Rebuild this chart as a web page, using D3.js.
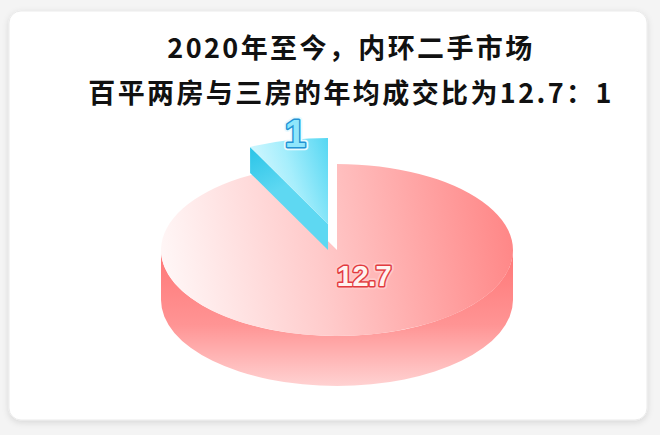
<!DOCTYPE html>
<html>
<head>
<meta charset="utf-8">
<script src="https://cdn.jsdelivr.net/npm/d3@7"></script>
<style>
  html, body { margin: 0; padding: 0; background: #f4f4f4; }
  svg { display: block; }
</style>
</head>
<body>
<svg id="canvas" width="660" height="435"></svg>
<script>
// data
let categories = ['百平两房', '百平三房'];
let values = [12.7, 1];
let valueLabels = ['12.7', '1'];
let titleLines = ['2020年至今，内环二手市场', '百平两房与三房的年均成交比为12.7：1'];

let width = 660;
let height = 435;

// pie geometry
let cx = 337, cy = 250, rx = 176, ry = 86, depth = 50;
// the small slice is lifted out and thinner
let liftX = -9, liftY = -26, liftDepth = 26;

let svg = d3.select('#canvas');
let defs = svg.append('defs');

let shadow = defs.append('filter').attr('id', 'shadow')
    .attr('x', '-5%').attr('y', '-5%').attr('width', '110%').attr('height', '115%');
shadow.append('feDropShadow')
    .attr('dx', 0).attr('dy', 2).attr('stdDeviation', 3)
    .attr('flood-color', '#000').attr('flood-opacity', 0.12);

// card
svg.append('rect')
    .attr('x', 9).attr('y', 11)
    .attr('width', 638).attr('height', 409)
    .attr('rx', 12)
    .attr('fill', '#fff')
    .attr('stroke', '#ebebeb')
    .attr('filter', 'url(#shadow)');

// title
svg.selectAll('.title')
    .data(titleLines)
    .enter()
    .append('text')
    .attr('class', 'title')
    .attr('x', 351)
    .attr('y', (d, i) => 58 + i * 45)
    .attr('text-anchor', 'middle')
    .attr('font-family', '"Noto Sans CJK SC", "Noto Sans", sans-serif')
    .attr('font-weight', 700)
    .attr('font-size', 27)
    .attr('letter-spacing', 2.4)
    .attr('fill', '#111')
    .text(d => d);

// gradients
let addLinear = (id, x1, y1, x2, y2, stops) => {
    let g = defs.append('linearGradient').attr('id', id)
        .attr('gradientUnits', 'userSpaceOnUse')
        .attr('x1', x1).attr('y1', y1).attr('x2', x2).attr('y2', y2);
    stops.forEach(s => {
        g.append('stop').attr('offset', s[0]).attr('stop-color', s[1]);
    });
};

addLinear('redTop', cx - rx, cy + ry * 0.4, cx + rx, cy - ry * 0.3,
    [[0, '#fff8f8'], [0.45, '#ffcaca'], [1, '#ff8686']]);
addLinear('redSide', 0, cy, 0, cy + ry + depth,
    [[0, '#ff7676'], [0.55, '#ff9494'], [1, '#ffd2d2']]);
addLinear('blueTop', cx - 90, cy - 60, cx, cy - 90,
    [[0, '#e4fbff'], [0.5, '#a6eefc'], [1, '#52d6f2']]);
addLinear('blueSide', cx - 80, cy - 100, cx - 60, cy - 60,
    [[0, '#2fc6e8'], [1, '#5ed8f2']]);

let arcs = d3.pie().sort(null).startAngle(0).endAngle(2 * Math.PI)(values);

let pt = (a, r, ox, oy, z) => {
    return [cx + ox + rx * r * Math.sin(a), cy + oy - ry * r * Math.cos(a) + z];
};

let topPath = (d, ox, oy) => {
    let c = pt(0, 0, ox, oy, 0);
    let p0 = pt(d.startAngle, 1, ox, oy, 0);
    let p1 = pt(d.endAngle, 1, ox, oy, 0);
    let large = (d.endAngle - d.startAngle) > Math.PI ? 1 : 0;
    return 'M' + c + 'L' + p0 + 'A' + rx + ',' + ry + ' 0 ' + large + ' 1 ' + p1 + 'Z';
};

// front part of the outer wall
let outerPath = (d, ox, oy, dz) => {
    let s = Math.max(d.startAngle, Math.PI / 2);
    let e = Math.min(d.endAngle, 3 * Math.PI / 2);
    if (e <= s) return null;
    let a = pt(s, 1, ox, oy, 0), b = pt(e, 1, ox, oy, 0);
    let bb = pt(e, 1, ox, oy, dz), aa = pt(s, 1, ox, oy, dz);
    return 'M' + a + 'A' + rx + ',' + ry + ' 0 0 1 ' + b +
        'L' + bb + 'A' + rx + ',' + ry + ' 0 0 0 ' + aa + 'Z';
};

// radial wall at the start of a slice
let wallPath = (angle, ox, oy, dz) => {
    let c = pt(0, 0, ox, oy, 0), o = pt(angle, 1, ox, oy, 0);
    let oz = pt(angle, 1, ox, oy, dz), cz = pt(0, 0, ox, oy, dz);
    return 'M' + c + 'L' + o + 'L' + oz + 'L' + cz + 'Z';
};

let big = arcs[0];
let small = arcs[1];

let pie = svg.append('g');

// big slice
pie.append('path')
    .attr('d', outerPath(big, 0, 0, depth))
    .attr('fill', 'url(#redSide)');
pie.append('path')
    .attr('d', topPath(big, 0, 0))
    .attr('fill', 'url(#redTop)');

// small slice, lifted
pie.append('path')
    .attr('d', wallPath(small.startAngle, liftX, liftY, liftDepth))
    .attr('fill', 'url(#blueSide)');
pie.append('path')
    .attr('d', topPath(small, liftX, liftY))
    .attr('fill', 'url(#blueTop)');

// value labels
let bigMid = (big.startAngle + big.endAngle) / 2;
let bigPos = pt(bigMid, 0.3, 15, 0, 0);
let smallMid = (small.startAngle + small.endAngle) / 2;
let smallPos = pt(smallMid, 1, liftX + 7, liftY, 0);

let labelData = [
    { text: valueLabels[0], x: bigPos[0], y: bigPos[1] + 11, size: 29,
      fill: '#fff3f0', inner: '#e23b3f', outer: '#ffc9c9' },
    { text: valueLabels[1], x: smallPos[0], y: smallPos[1] + 7, size: 38,
      fill: '#8fe6fb', inner: '#2393d4', outer: '#e8faff' }
];

labelData.forEach(l => {
    [[l.outer, 6.5], [l.inner, 3]].forEach(s => {
        svg.append('text')
            .attr('x', l.x).attr('y', l.y)
            .attr('text-anchor', 'middle')
            .attr('font-family', '"Liberation Sans", Arial, sans-serif')
            .attr('font-weight', 700)
            .attr('font-size', l.size)
            .attr('letter-spacing', -0.5)
            .attr('fill', l.fill)
            .attr('stroke', s[0])
            .attr('stroke-width', s[1])
            .attr('stroke-linejoin', 'round')
            .text(l.text);
    });
    svg.append('text')
        .attr('x', l.x).attr('y', l.y)
        .attr('text-anchor', 'middle')
        .attr('font-family', '"Liberation Sans", Arial, sans-serif')
        .attr('font-weight', 700)
        .attr('font-size', l.size)
        .attr('letter-spacing', -0.5)
        .attr('fill', l.fill)
        .text(l.text);
});
</script>
</body>
</html>
